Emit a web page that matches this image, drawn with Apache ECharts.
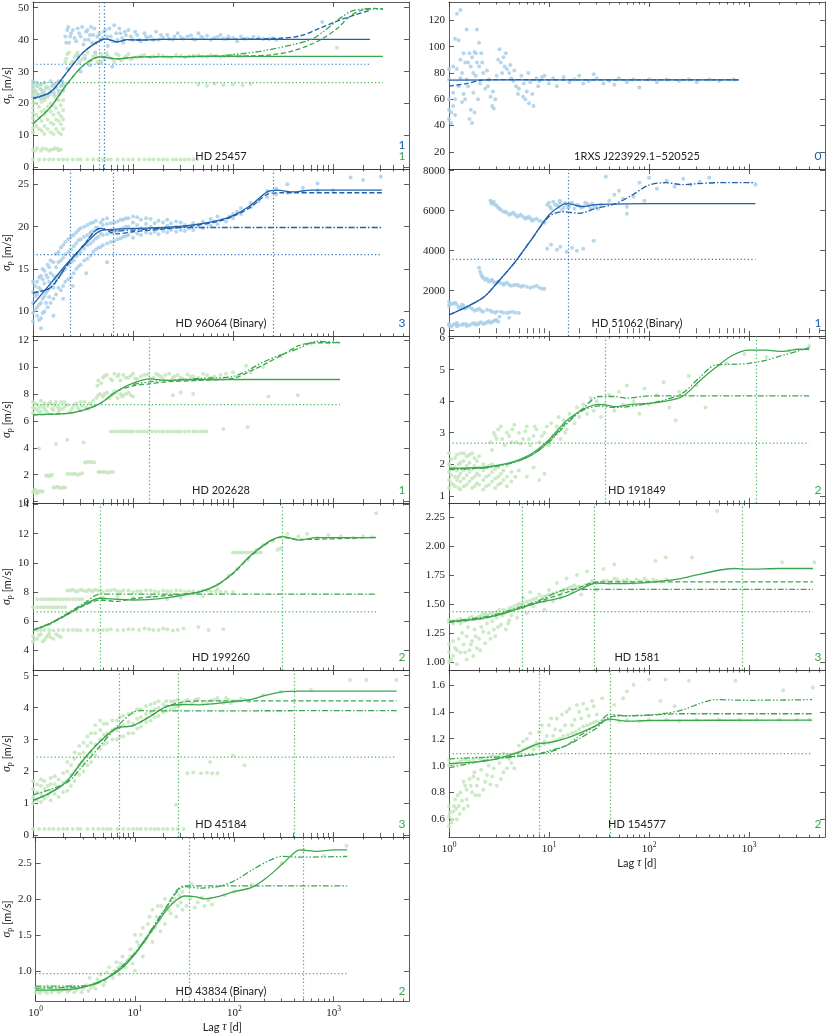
<!DOCTYPE html>
<html>
<head>
<meta charset="utf-8">
<script src="https://cdn.jsdelivr.net/npm/echarts@6/dist/echarts.min.js"></script>
<style>
  html, body { margin: 0; padding: 0; background: #fff; }
  #chart { width: 830px; height: 1034px; }
</style>
</head>
<body>
<div id="chart"></div>
<script>
// ---------- axis ticks ----------
const xMajorTicks = [1, 10, 100, 1000];
const xMinorTicks = [2, 3, 4, 5, 6, 7, 8, 9, 20, 30, 40, 50, 60, 70, 80, 90,
  200, 300, 400, 500, 600, 700, 800, 900, 2000, 3000, 4000, 5000];
const yTicks25457 = [0, 10, 20, 30, 40, 50];
const yTicksRxs = [20, 40, 60, 80, 100, 120];
const yTicks96064 = [10, 15, 20, 25];
const yTicks51062 = [0, 2000, 4000, 6000, 8000];
const yTicks202628 = [0, 2, 4, 6, 8, 10, 12];
const yTicks191849 = [1, 2, 3, 4, 5, 6];
const yTicks199260 = [4, 6, 8, 10, 12, 14];
const yTicks1581 = [1.0, 1.25, 1.5, 1.75, 2.0, 2.25];
const yTicks45184 = [0, 1, 2, 3, 4, 5];
const yTicks154577 = [0.6, 0.8, 1.0, 1.2, 1.4, 1.6];
const yTicks43834 = [1.0, 1.5, 2.0, 2.5];

// ---------- HD 25457 ----------
const hd25457BlueDots = [[1,22],[1,24],[1,26],[1.1,23],[1.1,25.5],[1.2,21.5],[1.2,24.5],[1.3,23],[1.3,26.5],[1.4,22.5],[1.4,25],[1.5,24],[1.5,27],[1.6,23.5],[1.6,26],[1.7,25],[1.8,24],[1.8,27],[1.9,25.5],[2,26],
  [1,23],[1,25],[1,27],[1.05,21.8],[1.05,24],[1.1,26.5],[1.15,22.5],[1.2,26],[1.25,23.5],[1.3,21.8],[1.35,25],[1.45,23],[1.55,25.5],[1.65,22.5],[1.75,26.5],[1.85,23],[1.95,27],[2,24],
  [2.1,41],[2.2,43],[2.3,39],[2.4,42],[2.6,40.5],[2.8,43.5],[3,41],[3.2,38.5],[3.4,42.5],[3.6,40],[3.8,44],[4,41.5],[4.3,39],[4.6,42],[5,40.5],[5.3,43],[5.6,38],[6,41],[6.5,44.5],[7,40],[7.5,42],[8,39],[8.5,41.5],[9,43],[10,40],[11,41.5],[12,39.5],[13,42],[14,40.5],[15,41],[17,42.5],[18,40],
  [2.15,39],[2.25,44],[2.35,41],[2.5,43],[2.7,39.5],[2.9,42],[3.1,44],[3.3,40],[3.5,43],[3.7,41.5],[3.9,39],[4.1,43.5],[4.4,41],[4.8,40],[5.1,42.5],[5.5,41],[5.8,43.5],[6.3,39.5],[6.8,42],[7.3,43.5],[7.8,40.5],[8.3,42.5],[9.5,41],[10.5,42.5],[11.5,40],[13.5,41],[16,40],[19,41.5],
  [2.2,31],[2.5,33],[2.8,35],[3,30],[3.3,34],[3.7,32],[4.2,36],[4.8,33],[5.5,35],[6.2,31.5],
  [20,40.5],[22,41.5],[23,40.2],[25,40],[26,41],[28,42],[30,40.8],[32,40.3],[35,41],[38,41.3],[40,40.2],[42,40],[45,42],[48,41],[50,40.5],[55,41.2],[60,40],[65,40.5],[70,40.8],[75,41.5],[80,40.3],[85,40.2],[90,41],[100,40.5],[110,39.5],[120,41],[130,40.3],[140,40.4],[160,40.8],[180,40.6],[200,40.2],[230,40.2],[250,40.5],[270,40],[780,45.5]];
const hd25457GreenDots = [[1,11],[1,14],[1,17],[1,20],[1,23],[1,26],[1.15,12],[1.15,15.5],[1.15,19],[1.15,22],[1.15,25],[1.3,10.5],[1.3,13],[1.3,16.5],[1.3,18],[1.3,21],[1.3,24],[1.5,11],[1.5,14],[1.5,17.5],[1.5,20],[1.5,23],[1.7,12],[1.7,15],[1.7,18.5],[1.7,22],[1.7,25.5],[1.9,10.5],[1.9,13.5],[1.9,16],[1.9,19.5],[1.9,24],
  [1,12.5],[1,15.5],[1,18.5],[1,21.5],[1,24.5],[1.08,13],[1.08,16.5],[1.08,20],[1.08,23.5],[1.08,26.5],[1.22,11.5],[1.22,14.5],[1.22,17.5],[1.22,20.5],[1.22,23],[1.4,12],[1.4,15],[1.4,19],[1.4,22],[1.4,25],[1.6,10.5],[1.6,13.5],[1.6,16.5],[1.6,19.5],[1.6,24],[1.8,11],[1.8,14.5],[1.8,17],[1.8,21],[1.8,23],[2,12],[2,15],[2,18],[2,21],
  [1,5.5],[1.05,5.3],[1.1,6],[1.2,5.2],[1.25,5.9],[1.35,5.8],[1.45,5.2],[1.5,5.5],[1.6,5.6],[1.65,6],[1.75,5.9],[1.8,5.4],[1.9,5.5],
  [1,2.5],[1.15,2.5],[1.3,2.5],[1.45,2.5],[1.6,2.5],[1.8,2.5],[2,2.5],[2.2,2.5],[2.5,2.5],[2.8,2.5],[3,2.5],[3.5,2.5],[4,2.5],[4.5,2.5],[5,2.5],[5.5,2.5],[6,2.5],[7,2.5],[8,2.5],[9,2.5],[10,2.5],[11.5,2.5],[13,2.5],[14.5,2.5],[16,2.5],[18,2.5],[20,2.5],[22,2.5],[25,2.5],[27,2.5],[30,2.5],[33,2.5],[36,2.5],[40,2.5],[44,2.5],
  [2.1,33],[2.15,34],[2.2,35.5],[2.3,36],[2.4,32.5],[2.5,33.2],[2.6,34.5],[2.7,35.2],[2.8,36],[2.9,32.8],[3,33.5],[3.2,34.2],[3.3,35],[3.5,36],[3.6,32.5],[3.8,33.5],[4,34.8],[4.2,35],[4.4,33],[4.6,32.8],[4.8,35.5],[5,34.5],[5.2,33.8],[5.5,35.8],[5.8,34.5],[6.2,34],[6.5,33],[6.8,35.5],[7.2,35.2],[7.6,33.5],[8,34],[8.5,34.8],[9,35.5],[9.5,33.8],[10,34.2],
  [11,34.5],[12,35],[13,35.2],[15,34.5],[16,34.8],[18,35.3],[20,35],[22,34.6],[24,34.5],[27,35.2],[30,35],[33,34.5],[36,34.8],[40,35],[45,35.1],[50,34.7],[55,34.6],[60,35.2],[68,35],[75,34.6],[82,34.8],[90,35],[100,35.1],[110,34.8],[120,34.7],[130,35],
  [45,26],[55,25.6],[65,26.2],[80,25.8],[100,26],[125,25.7],[150,26.1],[1090,37.5]];
const hd25457BlueSolid = [[1,21.6],[1.5,23.6],[2.2,29.9],[3.2,36.1],[4.7,39.8],[5.4,40.2],[6.9,39.3],[8.7,40],[12,39.9],[20,40.1],[50,40.1],[200,40.1],[2340,40.1]];
const hd25457BlueDashed = [[1,21.6],[1.5,23.6],[2.2,29.9],[3.2,36.1],[4.7,39.8],[5.4,40.2],[6.9,39.3],[8.7,40],[12,39.9],[20,40.1],[50,40.1],[150,40.2],[275,40.4],[470,41.2],[740,43.6],[1100,45.8],[1600,47.6],[2340,49.2]];
const hd25457GreenSolid = [[1,13.7],[1.5,18.9],[2.2,26.2],[3.2,32],[4.7,34.6],[6.9,34],[8.7,34.3],[12,34.6],[30,34.7],[100,34.8],[3160,34.8]];
const hd25457GreenDashed = [[1,13.7],[1.5,18.9],[2.2,26.2],[3.2,32],[4.7,34.6],[6.9,34],[8.7,34.3],[12,34.6],[30,34.7],[150,34.9],[250,35.3],[400,36.5],[600,38.5],[800,40.5],[1100,43.5],[1500,47.5],[2000,49.4],[2600,49.8],[3160,49.6]];
const hd25457GreenDashDotDot = [[30,34.7],[70,34.9],[100,35.3],[200,36.5],[400,38.5],[600,40],[800,42.5],[1100,46],[1500,48.8],[2000,49.6],[3160,49.6]];
const hd25457BlueLevel = [[1,32.3],[2340,32.3]];
const hd25457BlueLags = [5.13];
const hd25457GreenLevel = [[1,26.55],[3160,26.55]];
const hd25457GreenLags = [4.57];

// ---------- 1RXS J223929.1-520525 ----------
const rxsBlueDots = [[1,45],[1,52],[1,60],[1,75],[1,83],[1.05,42],[1.05,50],[1.1,55],[1.1,65],[1.1,85],[1.15,48],[1.15,60],[1.15,106],[1.2,125],[1.25,105],[1.25,70],[1.3,128],[1.3,90],[1.35,80],[1.35,58],[1.4,95],[1.45,88],[1.45,60],[1.5,113],[1.5,75],[1.55,70],[1.6,95],[1.6,45],[1.65,85],[1.7,92],[1.7,42],[1.75,65],[1.8,96],[1.8,50],[1.85,78],[1.9,113],[1.9,88],[1.95,60],[2,103],[2,85],[2.05,72],[2.1,95],[2.2,80],[2.3,68],[2.4,82],[2.5,75],[2.6,62],[2.7,55],[2.8,53],[2.9,60],[3,78],[3.2,98],[3.3,88],[3.5,92],[3.6,85],[3.8,83],[4,80],[4.2,76],[4.5,82],[4.7,70],[5,68],[5.3,78],[5.5,62],[5.8,60],[6,66],[6.3,57],[6.5,73],[7,55],[7.5,76],[8,74],[9,78],[10,72],[11,76],[12,70],[14,77],[16,73],[18,75],[20,78],[22,72],[25,74],[28,79],[30,76],[35,72],[40,74],[45,71],[50,76],[60,73],[70,75],[80,69],[100,75],[120,73],[150,75],[200,74],[250,75],[300,73],[400,75],[500,74],[700,75],
  [1.2,83],[1.3,76],[1.4,64],[1.55,88],[1.65,52],[1.75,80],[1.85,95],[2.15,88],[2.45,70],[2.75,66],[3.1,90],[3.4,80],[3.7,95],[4.1,86],[4.4,74],[4.9,64],[5.6,72],[6.2,80],[6.8,64],[7.8,70],[8.5,77]];
const rxsBlueSolid = [[1,74.6],[10,74.8],[790,74.8]];
const rxsBlueDashed = [[1,70],[1.5,72],[2.1,74.5],[3,75],[10,74.8],[790,74.8]];

// ---------- HD 96064 (Binary) ----------
const hd96064BlueDots = [[1,8.8],[1,9.8],[1,11],[1,12.3],[1,13.5],[1.1,9.5],[1.1,10.5],[1.1,12],[1.1,13.5],[1.2,9.2],[1.2,11],[1.2,12.5],[1.2,14.2],[1.3,10],[1.3,11.8],[1.3,13.3],[1.3,14.8],[1.4,10.5],[1.4,12.5],[1.4,14],[1.4,15.5],[1.5,11],[1.5,13],[1.5,14.5],[1.5,16],[1.7,12],[1.7,13.8],[1.7,15.2],[1.7,16.8],[1.9,12.5],[1.9,14.5],[1.9,16],[1.9,17.5],[2.1,13.5],[2.1,15],[2.1,16.7],[2.1,18.2],[2.4,14],[2.4,15.8],[2.4,17.3],[2.4,18.8],[2.7,15],[2.7,16.5],[2.7,18],[2.7,19.3],[3,15.5],[3,17],[3,18.5],[3,19.8],[3.5,16.2],[3.5,17.8],[3.5,19],[3.5,20.2],[4,17],[4,18.3],[4,19.5],[4,20.5],[4.5,17.5],[4.5,18.8],[4.5,19.8],[5,17.8],[5,19],[5,20.2],[5,20.8],[6,18.2],[6,19.3],[6,20.4],[7,18.5],[7,19.5],[7,20.6],[8,18.8],[8,19.8],[8,20.8],[9,19],[9,20],[9,21],[10,18.7],[10,19.6],[10,20.5],[10,21.2],[12,19],[12,19.8],[12,20.8],[15,19.2],[15,20],[15,20.9],[18,19.1],[18,19.8],[18,20.7],[22,19.3],[22,20.1],[22,20.8],[27,19.4],[27,20],[27,20.6],[33,19.5],[33,20.2],[40,19.6],[40,20.4],[50,19.8],[50,20.6],[60,20.1],[60,20.9],[70,20.3],[70,21.2],[85,20.6],[100,21],[100,21.5],[120,21.5],[120,22.2],[150,22.3],[150,22.8],[180,23],[220,23.5],[220,24.2],[270,24.5],[270,23.8],[350,24],[350,25],[500,24.2],[500,24.6],[700,24.3],[700,25.1],[1000,24.3],[1500,25.8],[2000,25.5],[3000,25.9],
  [1.2,8],[1.6,9.5],[2,11.5],[2.5,13],[3.4,14.5],[5.5,15.8],
  [1.05,10.2],[1.05,11.8],[1.05,13],[1.15,9],[1.15,10.8],[1.15,12.8],[1.15,14],[1.25,9.8],[1.25,11.5],[1.25,13.8],[1.25,15],[1.35,11],[1.35,12.2],[1.35,14.3],[1.45,11.7],[1.45,13.5],[1.45,15.2],[1.6,11.5],[1.6,12.8],[1.6,14.2],[1.6,15.8],[1.8,12.8],[1.8,14.2],[1.8,15.8],[1.8,17],[2,13],[2,14.8],[2,16.3],[2,17.8],[2.25,13.8],[2.25,15.5],[2.25,17],[2.25,18.5],[2.55,14.5],[2.55,16],[2.55,17.7],[2.55,19],[2.85,15.3],[2.85,16.8],[2.85,18.4],[2.85,19.6],[3.25,16],[3.25,17.4],[3.25,18.8],[3.25,20],[3.75,16.6],[3.75,18],[3.75,19.3],[3.75,20.4],[4.25,17.3],[4.25,18.6],[4.25,19.9],[4.25,20.7],[4.75,17.6],[4.75,19.2],[4.75,20.5],[5.5,18],[5.5,19.1],[5.5,20.3],[5.5,21],[6.5,18.3],[6.5,19.4],[6.5,20.5],[7.5,18.6],[7.5,19.7],[7.5,20.8],[8.5,18.9],[8.5,20],[8.5,21],[11,19.2],[11,20.2],[11,21.1],[13.5,19.3],[13.5,20.3],[13.5,21],[16.5,19.4],[16.5,20.4],[20,19.5],[20,20.5],[24,19.6],[24,20.4],[30,19.6],[30,20.5],[36,19.8],[45,20.1],[55,20.3],[65,20.6],[78,20.8],[92,21.2],[110,21.8]];
const hd96064BlueSolid = [[1,10.8],[1.5,13.3],[2.2,15.7],[3.2,17.7],[4.7,19.5],[6.9,19.7],[10,19.8],[20,19.9],[40,20.2],[70,20.7],[100,21.3],[150,22.5],[220,24.1],[275,24.3],[400,24.1],[600,24.3],[3080,24.3]];
const hd96064BlueDashed = [[1,12.2],[1.5,12.8],[2.2,15.5],[3.2,17.8],[4.7,19.8],[6.9,19.15],[10,19.4],[20,19.7],[40,20.1],[70,20.6],[100,21.2],[150,22.3],[220,23.8],[300,24.0],[3080,24.0]];
const hd96064BlueDashDot = [[1,12.2],[1.5,12.8],[2.2,15.5],[3.2,17.8],[4.7,19.8],[6.9,19.5],[10,19.6],[20,19.8],[30,19.9],[3080,19.9]];
const hd96064BlueLevel = [[1,16.7],[3080,16.7]];
const hd96064BlueLags = [2.34, 6.35, 250];

// ---------- HD 51062 (Binary) ----------
const hd51062BlueDots = [[1,250],[1,350],[1.05,200],[1.1,300],[1.15,330],[1.2,220],[1.2,380],[1.25,270],[1.35,280],[1.4,350],[1.5,320],[1.5,230],[1.6,270],[1.7,350],[1.8,380],[1.85,300],[1.95,320],[2,380],[2.1,420],[2.2,330],[2.3,370],[2.4,420],[2.5,470],[2.6,400],[2.7,430],[2.8,480],[2.9,520],[3,520],[3.1,450],
  [1,1450],[1,1250],[1.05,1350],[1.1,1350],[1.15,1400],[1.2,1300],[1.25,1150],[1.3,1200],[1.35,1300],[1.4,1250],[1.45,1100],[1.5,1150],[1.6,1200],[1.7,1100],[1.8,1000],[1.9,1050],[2,1100],[2.1,1000],[2.2,950],[2.4,1050],[2.6,1000],[2.7,950],[2.9,900],[3,950],[3.3,950],[3.5,900],[3.8,880],[4,920],[4.3,950],[4.6,900],[5,880],[3.2,700],[4,650],
  [2,3150],[2.05,2950],[2.1,2800],[2.15,2700],[2.2,2650],[2.3,2550],[2.4,2600],[2.5,2450],[2.6,2500],[2.7,2550],[2.8,2450],[2.9,2350],[3,2400],[3.1,2450],[3.3,2380],[3.5,2300],[3.6,2350],[3.8,2400],[4,2300],[4.2,2250],[4.5,2280],[4.8,2300],[5,2250],[5.3,2200],[5.5,2250],[6,2200],[6.5,2150],[7,2200],[7.5,2250],[8,2150],[8.5,2100],[9,2100],
  [2.6,6500],[2.65,6400],[2.7,6350],[2.8,6450],[2.9,6300],[3,6250],[3.1,6150],[3.2,6100],[3.3,6050],[3.5,5950],[3.65,5950],[3.8,5900],[4,5800],[4.2,5850],[4.4,5900],[4.6,5800],[4.8,5700],[5,5750],[5.2,5800],[5.5,5700],[5.8,5600],[6,5650],[6.3,5700],[6.5,5600],[6.8,5500],[7,5550],[7.5,5600],[8,5500],[8.5,5450],[9,5400],
  [9.6,6300],[10,6400],[10.2,6200],[10.5,6100],[11,6450],[11.5,6300],[12,6300],[12.5,6200],[12.8,6500],[13,6400],[13.5,6050],[14,6150],[14.5,6400],[15,6300],[15.5,6150],[16,6200],[16.5,6350],[17,6400],[18,6100],[19,6300],[20,6250],[21,6150],[22,6200],[23,6400],[24,6350],[25,6250],[26,6100],[27,6350],[28,6250],[29,6200],[30,6150],[31,6100],[33,6300],
  [9.6,4100],[10.5,4300],[12,4050],[13,4200],[15,3950],[17,4150],[19,4000],[22,4100],[28,4500],
  [37,7700],[40,6500],[45,6800],[50,7000],[55,6600],[60,6200],[70,6700],[80,7400],[90,6500],[100,7650],[120,7100],[150,7500],[180,7200],[220,7600],[260,7300],[320,7450],[400,7650],[60,5850],[1160,7300]];
const hd51062BlueSolid = [[1,785],[2.15,1620],[3.1,2450],[4.6,3450],[6.8,4620],[10,5785],[13.5,6285],[15.5,6350],[21.5,6200],[29,6300],[46,6330],[100,6350],[1160,6350]];
const hd51062BlueDashed = [[1,785],[2.15,1620],[3.1,2450],[4.6,3450],[6.8,4620],[10,5700],[13.5,5950],[20,5870],[29,6100],[46,6350],[68,6785],[100,7285],[147,7400],[216,7300],[300,7350],[500,7400],[1160,7400]];
const hd51062BlueLevel = [[1,3565],[1160,3565]];
const hd51062BlueLags = [15.4];

// ---------- HD 202628 ----------
const hd202628GreenDots = [[1,6.6],[1,7],[1,7.4],[1.05,6.9],[1.05,7.3],[1.1,6.8],[1.1,7.2],[1.15,6.6],[1.15,7.0],[1.2,6.7],[1.2,7.5],[1.25,7.1],[1.3,6.9],[1.3,7.3],[1.35,6.75],[1.4,6.6],[1.4,7.1],[1.45,7.3],[1.5,7.4],[1.55,6.9],[1.6,6.8],[1.6,7.2],[1.7,7.1],[1.7,7.4],[1.8,6.7],[1.8,7.0],[1.85,6.85],[1.9,7.4],[2,6.9],[2.05,7.4],[2.1,7.1],[2.2,7.2],[2.3,6.6],[2.4,6.8],[2.5,7.0],[2.6,7.2],[2.7,7.3],[2.8,7.0],[2.9,6.8],[3.0,7.4],[3.1,7.1],[3.3,7.4],[3.4,7.0],[3.6,6.9],[3.7,7.3],[3.8,7.2],[4,7.5],
  [4.3,7.7],[4.5,7.9],[4.7,8.0],[5,7.8],[5.2,8.0],[5.5,8.1],[5.8,7.7],[6,7.9],[6.3,7.95],[6.5,8.2],[6.8,8.1],[7,7.7],[7.5,8.0],[7.8,7.8],[8,7.9],[8.5,8.0],[9,8.1],[9.5,7.9],[10,7.8],[4.4,8.6],[4.8,8.8],[4.5,9.0],
  [5,9.2],[5.2,9.35],[5.5,9.4],[6,9.1],[6.2,9.0],[6.5,9.5],[7,9.3],[7.2,9.45],[7.5,9.0],[8,9.4],[8.5,9.2],[9,9.2],[9.5,9.35],[10,9.5],[10.5,9.15],[11,9.1],[12,9.3],[13,9.4],[14,9.45],[15,9.1],[16,9.2],[17,9.5],[18,9.4],[19,9.3],[20,9.1],[21,9.4],[23,9.5],[25,9.2],[26,9.3],[28,9.4],[30,9.2],[32,9.1],[35,9.45],[38,9.3],[40,9.3],[45,9.2],[50,9.5],[55,9.4],[60,9.2],[65,9.3],[75,9.4],[85,9.5],[100,9.6],
  [6,5.2],[6.5,5.2],[7,5.2],[7.5,5.2],[8,5.2],[8.5,5.2],[9,5.2],[9.5,5.2],[10,5.2],[11,5.2],[12,5.2],[13,5.2],[14,5.2],[15.5,5.2],[17,5.2],[18.5,5.2],[20,5.2],[22,5.2],[24,5.2],[26,5.2],[28,5.2],[30,5.2],[33,5.2],[36,5.2],[40,5.2],[43,5.2],[47,5.2],[50,5.2],[54,5.2],[80,5.4],[140,5.55],
  [1,0.7],[1.05,0.9],[1.08,0.7],[1.1,0.6],[1.15,0.8],[1.2,0.75],[1.25,0.75],[1.35,1.95],[1.4,1.95],[1.45,1.9],[1.5,1.95],[1.55,2.0],[1.6,1.05],[1.65,1.05],[1.75,1.1],[1.8,1.05],[1.9,1.0],[2.0,1.05],[2.1,1.05],[2.2,2.05],[2.35,2.05],[2.5,2.05],[2.65,2.05],[2.8,2.0],[2.95,2.05],[3.1,2.1],[3.3,2.9],[3.5,2.95],[3.7,2.95],[3.9,2.95],[4.1,2.9],[4.5,2.2],[4.7,2.2],[5,2.2],[5.3,2.2],[5.6,2.15],[5.9,2.2],[6.3,2.2],[1.15,3.95],[1.7,4.3],[2.2,4.6],[3.2,4.4],
  [226,7.8],[445,7.9],[135,10.1],[30,8.1],[40,8.0],[25,7.9],[150,9.6],[200,10],[300,10.8],[400,11.3],[600,11.7],[900,11.8]];
const hd202628GreenSolid = [[1,6.45],[2.2,6.55],[3.2,6.8],[4.7,7.3],[6.9,8.2],[10,8.8],[14.7,9.12],[21.5,9.0],[46,9.07],[1175,9.07]];
const hd202628GreenDashed = [[1,6.45],[2.2,6.55],[3.2,6.8],[4.7,7.3],[6.9,8.2],[10,8.6],[14.7,8.75],[21.5,8.9],[46,9.0],[100,9.15],[150,9.7],[220,10.3],[320,10.95],[460,11.6],[680,11.8],[1000,11.8],[1175,11.85]];
const hd202628GreenDashDotDot = [[10,8.7],[14.7,8.9],[21.5,9.0],[46,9.15],[100,9.3],[220,10.5],[460,11.4],[680,11.9],[1175,11.8]];
const hd202628GreenLevel = [[1,7.2],[1175,7.2]];
const hd202628GreenLags = [14.5];

// ---------- HD 191849 ----------
const hd191849GreenDots = [[1,1.25],[1,1.5],[1,1.75],[1,2.0],[1,2.35],[1.05,1.4],[1.05,1.65],[1.05,1.9],[1.05,2.15],[1.1,1.35],[1.1,1.85],[1.15,1.3],[1.15,1.6],[1.15,1.9],[1.15,2.2],[1.2,1.5],[1.2,1.8],[1.2,2.3],[1.25,1.25],[1.25,1.6],[1.25,2.0],[1.3,1.2],[1.3,1.45],[1.3,1.7],[1.3,2.05],[1.3,2.35],[1.4,1.3],[1.4,1.55],[1.4,1.8],[1.4,2.1],[1.4,2.35],[1.5,1.35],[1.5,1.65],[1.5,1.95],[1.5,2.25],[1.6,1.45],[1.6,1.75],[1.6,2.05],[1.6,2.3],[1.7,1.25],[1.7,1.55],[1.7,1.85],[1.7,2.35],[1.8,1.3],[1.8,1.6],[1.8,1.95],[1.8,2.2],[1.9,1.4],[1.9,1.7],[1.9,2.1],[2,1.35],[2,1.65],[2,1.9],[2,2.25],[2.2,1.2],[2.2,1.5],[2.2,1.8],[2.2,2.0],[2.35,1.3],[2.35,1.6],[2.35,1.9],[2.5,1.35],[2.5,1.65],[2.5,1.95],[2.7,1.45],[2.7,1.75],[2.7,2.0],[2.9,1.25],[2.9,1.55],[2.9,1.85],[3.1,1.35],[3.1,1.6],[3.1,1.9],[3.3,1.4],[3.3,1.7],[3.5,1.5],[3.5,1.8],[3.8,1.3],[3.8,1.6],[3.8,1.95],[4.2,1.45],[4.2,1.75],[4.6,1.6],
  [2.6,2.7],[2.7,2.45],[2.8,3.0],[2.9,2.9],[3,2.8],[3.1,3.1],[3.3,3.2],[3.4,2.8],[3.6,2.6],[3.8,3.0],[4,2.9],[4.2,2.7],[4.3,3.1],[4.5,3.25],[4.7,2.7],[5,3.0],[5.2,2.65],[5.5,2.8],[5.8,3.05],[6,3.2],[6.3,2.8],[6.5,2.6],[7,2.9],[7.2,3.2],[7.5,3.1],[8,2.7],[8.5,2.9],[9,3.0],[9.5,3.2],[5,1.8],[6,1.6],[7,1.9],[8,1.5],[9,1.7],
  [10,2.6],[10.5,3.3],[11,2.9],[12,3.2],[12.5,3.5],[13,2.8],[14,3.4],[14.5,3.0],[15,3.1],[16,3.6],[18,3.3],[19,3.8],[20,3.5],[22,3.9],[24,3.6],[26,4.1],[28,3.7],[30,4.0],[33,3.5],[36,3.9],[40,4.2],
  [45,3.7],[50,4.3],[55,3.9],[60,4.5],[70,4.0],[80,3.6],[90,4.4],[100,3.9],[120,4.2],[140,4.6],[160,3.8],[185,3.4],[200,4.3],[250,4.8],[300,4.5],[367,3.8],[600,5.2],[900,5.5],[1500,5.4],[2500,5.6],[4000,5.75]];
const hd191849GreenSolid = [[1,1.87],[2.15,1.9],[3.1,1.97],[4.6,2.1],[6.8,2.35],[10,2.78],[14.7,3.36],[21.5,3.73],[28,3.88],[31.6,3.9],[40,3.86],[46,3.83],[68,3.9],[100,3.93],[147,4.0],[216,4.15],[320,4.64],[460,5.06],[680,5.45],[1000,5.62],[1470,5.62],[2150,5.58],[3160,5.65],[4000,5.65]];
const hd191849GreenDashDot = [[1,1.85],[2.15,1.88],[3.1,1.95],[4.6,2.07],[6.8,2.3],[10,2.72],[14.7,3.3],[21.5,3.75],[31.6,4.15],[45,4.15],[60,4.1],[100,4.17],[4000,4.17]];
const hd191849GreenDashDotDot = [[1,1.83],[2.15,1.88],[3.1,1.95],[4.6,2.08],[6.8,2.3],[10,2.7],[14.7,3.25],[21.5,3.7],[31.6,3.85],[46,3.8],[100,3.93],[147,4.05],[216,4.25],[320,4.75],[460,5.15],[680,5.17],[1000,5.2],[1470,5.3],[2150,5.45],[3160,5.6],[4000,5.7]];
const hd191849GreenLevel = [[1,2.67],[4000,2.67]];
const hd191849GreenLags = [36.7, 1176];

// ---------- HD 199260 ----------
const hd199260GreenDots = [[1.1,7.5],[1.2,7.5],[1.3,7.5],[1.4,7.5],[1.5,7.5],[1.6,7.5],[1.7,7.5],[1.85,7.5],[2,7.5],[2.15,7.5],[2.3,7.5],[2.5,7.5],[2.7,7.5],[2.9,7.5],[3.1,7.5],
  [2.2,8.1],[2.35,8.1],[2.5,8.15],[2.65,8.05],[2.8,8.05],[3.0,8.15],[3.2,8.1],[3.4,8.05],[3.6,8.15],[3.8,8.1],[4,8.05],[4.2,8.15],[4.5,8.1],[4.8,8.05],[5,8.0],[5.5,8.1],[6,8.1],[6.5,8.15],[7,8.05],[7.5,8.0],[8,8.1],[9,8.1],[10,8.0],[11,8.05],[12,8.05],[13.5,8.1],[15,8.1],[16.5,8.05],[18,8.0],[20,8.1],[22,8.05],[24,8.05],[27,8.1],[30,8.1],[33,8.0],[36,8.05],[40,8.05],[45,8.0],[50,8.1],[55,8.1],[60,8.05],[67,8.05],[75,8.0],[85,8.0],[100,8.0],
  [1,6.95],[1.1,6.95],[1.2,6.95],[1.3,6.95],[1.4,6.95],[1.5,6.95],[1.6,6.95],[1.7,6.95],[1.8,6.95],[1.95,6.95],[2.1,6.95],
  [1.1,5.4],[1.2,5.4],[1.3,5.4],[1.45,5.4],[1.6,5.35],[1.8,5.4],[2,5.4],[2.25,5.4],[2.5,5.4],[2.75,5.4],[3,5.35],[3.5,5.4],[4,5.4],[4.5,5.4],[5,5.4],[5.5,5.4],[6,5.45],[7,5.4],[8,5.4],[9,5.45],[10,5.45],[11.5,5.4],[13,5.5],[14.5,5.45],[16,5.4],[18,5.4],[20,5.5],[22,5.45],[25,5.35],[28,5.4],[32,5.5],[45,5.6],[57,5.4],[80,5.45],
  [1,4.6],[1,5.0],[1.05,4.75],[1.1,4.8],[1.15,5.05],[1.2,5.1],[1.25,4.6],[1.3,4.7],[1.35,4.9],[1.4,5.0],[1.45,5.15],[1.5,4.9],[1.6,4.8],[1.7,5.1],[1.8,5.0],[1.9,4.9],
  [3.5,7.3],[5,7.6],[7,7.7],[10,7.6],[15,7.7],[22,7.5],[30,7.6],[50,7.7],[70,8.2],
  [100,10.7],[108,10.7],[115,10.7],[122,10.7],[130,10.7],[140,10.7],[150,10.7],[160,10.7],[170,10.7],[180,10.7],[190,10.7],
  [70,8.5],[90,9.1],[110,9.6],[140,10.2],[170,10.9],[200,11.2],[250,11.5],[280,10.9],[300,11.0],
  [350,12.0],[450,11.8],[550,12.0],[700,11.7],[900,11.9],[1200,11.8],[1600,11.7],[2000,11.8],[2500,11.75],[2700,13.4]];
const hd199260GreenSolid = [[1,5.38],[1.48,5.83],[2.17,6.45],[3.19,7.1],[4.68,7.57],[6.87,7.5],[10,7.45],[21.5,7.6],[46,8.0],[68,8.45],[100,9.3],[147,10.45],[216,11.35],[275,11.72],[320,11.8],[460,11.55],[680,11.72],[2690,11.72]];
const hd199260GreenDashed = [[1,5.35],[1.48,5.8],[2.17,6.42],[3.19,7.05],[4.68,7.45],[6.87,7.35],[10,7.55],[21.5,7.75],[46,8.0],[68,8.45],[100,9.25],[147,10.4],[216,11.3],[300,11.75],[460,11.6],[2690,11.75]];
const hd199260GreenDashDot = [[1,5.4],[1.48,5.85],[2.17,6.5],[3.19,7.2],[4.68,7.85],[10,7.85],[2690,7.85]];
const hd199260GreenLevel = [[1,6.64],[2690,6.64]];
const hd199260GreenLags = [4.75, 314];

// ---------- HD 1581 ----------
const hd1581GreenDots = [[1,1.34],[1.1,1.35],[1.1,1.33],[1.2,1.36],[1.3,1.37],[1.4,1.35],[1.5,1.36],[1.6,1.38],[1.7,1.39],[1.8,1.37],[1.9,1.38],[2,1.39],[2.1,1.4],[2.3,1.4],[2.4,1.41],[2.6,1.42],[2.8,1.42],[3,1.43],[3.2,1.45],[3.5,1.45],[3.7,1.44],[4,1.46],[4.2,1.47],[4.5,1.48],[4.8,1.49],[5,1.5],[5.5,1.51],[6,1.52],[6.5,1.53],[7,1.54],[7.5,1.55],[8,1.53],[8.5,1.56],[9,1.56],[9.5,1.57],[10,1.58],[11,1.59],[12,1.6],[13.5,1.61],[14,1.62],[15,1.63],[16,1.64],[17,1.65],[18,1.66],[19,1.64],[20,1.65],[23,1.66],[25,1.67],[27,1.68],[30,1.68],[1,1.36],[1.3,1.33],[2.2,1.42],[3.3,1.41],[5.5,1.47],[9,1.52],[13,1.57],[22,1.63],
  [1,1.0],[1,1.08],[1,1.15],[1.05,1.02],[1.1,1.05],[1.1,1.18],[1.15,1.12],[1.2,0.98],[1.2,1.1],[1.25,1.2],[1.3,1.08],[1.35,1.25],[1.4,1.15],[1.45,1.08],[1.5,1.02],[1.5,1.22],[1.55,1.3],[1.6,1.1],[1.65,1.15],[1.7,1.18],[1.75,1.05],[1.8,1.28],[1.85,1.22],[1.9,1.12],[2,1.2],[2.05,1.1],[2.1,1.3],[2.2,1.26],[2.3,1.16],[2.4,1.33],[2.5,1.25],[2.6,1.2],[2.7,1.35],[2.8,1.28],[2.9,1.22],[3.0,1.38],[3.1,1.3],[3.3,1.32],[3.4,1.4],[3.6,1.42],[3.7,1.28],[3.9,1.33],[4,1.36],[4.2,1.4],[4.4,1.45],[4.8,1.38],[5.2,1.5],
  [5.5,1.55],[6,1.42],[6.5,1.6],[7,1.48],[8,1.58],[9,1.45],[10,1.62],[11,1.52],[12,1.68],[13,1.55],[15,1.72],[17,1.6],[19,1.75],[21,1.58],[24,1.78],[27,1.7],[30,1.62],
  [35,1.7],[38,1.7],[40,1.68],[42,1.69],[45,1.72],[48,1.71],[50,1.69],[55,1.7],[60,1.71],[65,1.69],[70,1.68],[75,1.71],[80,1.7],[85,1.69],[90,1.72],[95,1.7],[100,1.69],[110,1.71],[120,1.7],[130,1.69],[150,1.71],
  [116,1.87],[147,1.9],[270,1.9],[480,2.3],[2140,1.86],[4500,1.86],[45,1.84],[35,1.8]];
const hd1581GreenSolid = [[1,1.345],[2,1.37],[3,1.4],[5,1.46],[7,1.5],[10,1.53],[15,1.57],[20,1.62],[30,1.68],[40,1.675],[60,1.675],[100,1.685],[200,1.715],[300,1.75],[500,1.79],[700,1.805],[1000,1.8],[2000,1.805],[4360,1.805]];
const hd1581GreenDashed = [[1,1.34],[2,1.37],[3,1.4],[5,1.46],[7,1.5],[10,1.55],[15,1.6],[20,1.64],[30,1.69],[4360,1.69]];
const hd1581GreenDashDot = [[1,1.35],[2,1.38],[3,1.41],[5,1.47],[8,1.53],[12,1.6],[15,1.625],[4360,1.625]];
const hd1581GreenLevel = [[1,1.433],[4360,1.433]];
const hd1581GreenLags = [5.4, 28.5, 855];

// ---------- HD 45184 ----------
const hd45184GreenDots = [[1,0.2],[1.15,0.2],[1.3,0.2],[1.45,0.2],[1.6,0.2],[1.8,0.2],[2,0.2],[2.2,0.2],[2.5,0.2],[2.8,0.2],[3,0.2],[3.5,0.2],[4,0.2],[4.5,0.2],[5,0.2],[5.5,0.2],[6,0.2],[7,0.2],[8,0.2],[9,0.2],[10,0.2],[11,0.2],[12,0.2],[13.5,0.2],[15,0.2],[16.5,0.2],[18,0.2],[20,0.2],[22,0.2],[25,0.2],[28,0.2],[32,0.2],
  [1,1.0],[1,1.2],[1,1.45],[1,1.7],[1.1,1.1],[1.1,1.35],[1.1,1.6],[1.2,1.05],[1.2,1.3],[1.2,1.55],[1.2,1.75],[1.3,1.15],[1.3,1.45],[1.3,1.7],[1.4,1.25],[1.4,1.55],[1.5,1.1],[1.5,1.4],[1.5,1.6],[1.5,1.8],[1.65,1.3],[1.65,1.6],[1.65,1.85],[1.8,1.2],[1.8,1.5],[1.8,1.75],[2,1.35],[2,1.65],[2,1.95],[2.2,1.4],[2.2,1.7],[2.2,2.0],[2.2,2.3],[2.4,1.55],[2.4,1.9],[2.4,2.2],[2.6,1.7],[2.6,2.0],[2.6,2.4],[2.6,2.6],[2.9,1.9],[2.9,2.2],[2.9,2.55],[2.9,2.8],[3.2,2.0],[3.2,2.3],[3.2,2.6],[3.2,2.9],[3.5,2.2],[3.5,2.5],[3.5,2.8],[3.5,3.1],[3.8,2.3],[3.8,2.6],[3.8,2.9],[3.8,3.2],[4.2,2.5],[4.2,2.85],[4.2,3.2],[4.2,3.45],[4.7,2.7],[4.7,3.0],[4.7,3.3],[4.7,3.6],[5.1,2.85],[5.1,3.15],[5.1,3.5],[5.5,2.9],[5.5,3.2],[5.5,3.5],[6.2,3.0],[6.2,3.3],[6.2,3.6],[6.9,3.0],[6.9,3.3],[6.9,3.6],[7.4,3.1],[7.4,3.4],[7.4,3.7],[8,3.1],[8,3.45],[8,3.75],[9,3.2],[9,3.55],[9,3.8],[10,3.2],[10,3.5],[10,3.85],[11,3.35],[11,3.65],[11,3.95],[12,3.4],[12,3.7],[12,3.95],[13.5,3.55],[13.5,3.8],[13.5,4.05],[15,3.6],[15,3.85],[15,4.1],[16.5,3.7],[16.5,3.95],[16.5,4.15],[18,3.75],[18,4.0],[18,4.2],[20,3.85],[20,4.1],[21.5,3.9],[21.5,4.05],[21.5,4.2],[24,3.95],[24,4.2],[26,4.0],[26,4.2],[28,4.05],[28,4.25],
  [30,4.1],[33,4.2],[35,4.25],[38,4.12],[40,4.15],[42,4.25],[45,4.28],[50,4.12],[55,4.18],[60,4.22],[65,4.25],[70,4.3],[75,4.2],[80,4.15],[85,4.3],[90,4.25],[95,4.15],[100,4.2],[110,4.22],[120,4.28],[130,4.25],[145,4.2],
  [35,1.95],[40,1.97],[48,1.95],[55,1.96],[62,1.95],[70,1.95],[27,0.96],[59,2.3],[100,2.5],[130,2.2],[200,4.4],[300,4.5],[600,4.55],[1480,4.87],[2150,4.87],[4300,4.87]];
const hd45184GreenSolid = [[1,1.1],[1.48,1.33],[2.17,1.69],[3.19,2.37],[4.68,2.94],[6.87,3.36],[10,3.44],[14.7,3.72],[21.5,4.03],[31.6,4.1],[46,4.09],[100,4.19],[147,4.25],[215,4.39],[320,4.5],[460,4.52],[4330,4.52]];
const hd45184GreenDashed = [[1,1.1],[1.48,1.33],[2.17,1.69],[3.19,2.37],[4.68,2.94],[6.87,3.36],[10,3.44],[14.7,3.72],[21.5,4.03],[31.6,4.18],[50,4.21],[4330,4.21]];
const hd45184GreenDashDot = [[1,1.27],[2.17,1.65],[3.19,2.2],[4.68,2.8],[6.87,3.4],[10,3.85],[12,3.91],[15,3.9],[4330,3.91]];
const hd45184GreenLevel = [[1,2.45],[4330,2.45]];
const hd45184GreenLags = [7.3, 28.4, 414];

// ---------- HD 154577 ----------
const hd154577GreenDots = [[1,0.55],[1,0.62],[1,0.7],[1.02,0.65],[1.05,0.58],[1.08,0.6],[1.1,0.66],[1.12,0.7],[1.15,0.75],[1.18,0.68],[1.2,0.6],[1.22,0.78],[1.25,0.7],[1.28,0.64],[1.3,0.8],[1.35,0.74],[1.4,0.68],[1.4,0.88],[1.45,0.85],[1.5,0.75],[1.5,0.82],[1.55,0.7],[1.6,0.9],[1.65,0.85],[1.7,0.8],[1.75,0.92],[1.8,0.95],[1.85,0.78],[1.9,0.85],[1.95,0.9],[2,0.78],[2.1,0.97],[2.2,0.82],[2.3,0.88],[2.4,0.93],[2.5,1.0],[2.6,0.86],[2.7,0.92],[2.8,0.98],[3,0.85],[3.2,1.02],[3.3,0.9],[3.5,0.95],[3.8,0.98],[4,1.05],[4.2,1.02],[4.5,0.98],[5,1.08],
  [1,1.0],[1,1.04],[1.1,1.01],[1.2,1.02],[1.3,1.03],[1.4,1.05],[1.5,1.04],[1.6,1.03],[1.75,1.05],[1.9,1.06],[2.05,1.05],[2.2,1.04],[2.4,1.06],[2.6,1.07],[2.8,1.07],[3,1.06],[3.2,1.08],[3.5,1.09],[3.8,1.08],[4,1.08],[4.5,1.09],[5,1.1],[5.5,1.12],[6,1.13],[6.5,1.14],[7,1.15],[7.5,1.15],[8,1.14],[9,1.16],[10,1.17],[11,1.18],[12,1.19],[13,1.2],[14,1.22],[15.5,1.23],[17,1.24],[18.5,1.25],[20,1.27],[22,1.29],[24,1.3],[26,1.31],[28,1.32],[30,1.33],[35,1.34],
  [5,1.15],[5.5,1.18],[6,1.2],[6.5,1.24],[7,1.12],[7.5,1.17],[8,1.25],[8.5,1.3],[9,1.18],[9.5,1.22],[10,1.3],[10.5,1.35],[11,1.22],[11.5,1.27],[12,1.35],[13,1.26],[13.5,1.38],[14.5,1.3],[15,1.4],[16,1.42],[17,1.3],[18,1.34],[19,1.45],[20,1.4],[21,1.35],[22,1.46],[24,1.42],[25,1.37],[27,1.48],[28,1.44],[30,1.38],[34,1.5],
  [40,1.34],[50,1.33],[60,1.34],[80,1.33],[100,1.34],[150,1.34],[200,1.33],[300,1.34],[500,1.34],[800,1.34],[1200,1.34],[2000,1.34],[3000,1.34],[4000,1.34],
  [100,1.64],[146,1.64],[250,1.63],[730,1.63],[2200,1.56],[4350,1.58],[60,1.55],[70,1.6],[45,1.45],[55,1.5],[130,1.48],[180,1.44]];
const hd154577GreenSolid = [[1,1.015],[2,1.03],[3,1.05],[5,1.1],[7.6,1.16],[10,1.17],[15,1.205],[20,1.24],[30,1.3],[40,1.345],[60,1.33],[100,1.335],[4270,1.338]];
const hd154577GreenDashDot = [[1,0.983],[2,1.03],[3,1.05],[5,1.07],[7.6,1.085],[10,1.1],[15,1.15],[20,1.2],[30,1.28],[40,1.36],[60,1.37],[100,1.375],[200,1.385],[4270,1.385]];
const hd154577GreenDashDotDot = [[1,1.05],[2,1.06],[5,1.07],[7.6,1.085],[10,1.11],[15,1.15],[20,1.22],[30,1.3],[40,1.38],[60,1.37],[100,1.375],[150,1.39],[220,1.415],[320,1.46],[460,1.49],[1000,1.485],[4270,1.49]];
const hd154577GreenLevel = [[1,1.089],[4270,1.089]];
const hd154577GreenLags = [7.9, 40.6];

// ---------- HD 43834 (Binary) ----------
const hd43834GreenDots = [[1,0.7],[1,0.76],[1.05,0.73],[1.1,0.69],[1.15,0.72],[1.2,0.75],[1.25,0.71],[1.3,0.69],[1.3,0.78],[1.4,0.76],[1.45,0.7],[1.5,0.73],[1.6,0.74],[1.7,0.7],[1.7,0.77],[1.8,0.72],[1.9,0.74],[2,0.77],[2.1,0.71],[2.2,0.73],[2.3,0.78],[2.45,0.7],[2.6,0.74],[2.7,0.77],[2.9,0.7],[3.0,0.75],[3.2,0.8],[3.4,0.72],[3.6,0.76],[3.8,0.79],[4,0.82],
  [3.5,0.9],[4,0.75],[4.2,0.88],[4.5,0.95],[4.8,0.8],[5,0.85],[5.2,0.98],[5.5,1.05],[5.8,0.95],[6,0.9],[6.2,1.0],[6.5,1.12],[6.8,1.05],[7,0.95],[7.2,1.1],[7.5,1.2],[8,1.05],[8.5,1.15],[9,1.3],[9,1.2],[9.5,1.1],
  [10,1.0],[10,1.25],[10,1.5],[10.5,1.4],[11,1.35],[11.5,1.5],[12,1.2],[12,1.6],[12.5,1.4],[13,1.45],[13.5,1.65],[14,1.75],[14.5,1.55],[15,1.4],[15,1.85],[16,1.6],[16.5,1.75],[17,1.9],[17.5,1.7],[18,1.55],[18.5,1.9],[19,1.8],[20,1.65],[20,2.0],[21,1.9],[22,1.85],[23,1.8],[24,1.95],[25,2.0],[26,1.75],[27,1.9],[28,2.05],[29,1.95],[30,1.85],[30,2.1],
  [33,1.9],[36,2.0],[40,1.88],[43,1.95],[47,2.02],[50,1.9],[55,1.98],[60,1.92],
  [37,2.21],[80,2.05],[100,2.1],[150,2.2],[300,2.5],[500,2.68],[800,2.6],[1350,2.74]];
const hd43834GreenSolid = [[1,0.73],[2.17,0.74],[3.19,0.78],[4.68,0.866],[6.87,1.0],[10,1.23],[14.7,1.55],[21.5,1.87],[26,1.98],[31.6,2.04],[40,2.03],[50,2.0],[68,2.03],[100,2.1],[150,2.16],[215,2.3],[320,2.51],[460,2.68],[680,2.66],[1000,2.68],[1370,2.68]];
const hd43834GreenDashDotDot = [[1,0.787],[3,0.79],[5,0.88],[10,1.25],[20,1.85],[31.6,2.17],[46,2.15],[68,2.17],[100,2.25],[150,2.4],[215,2.52],[300,2.59],[460,2.58],[1370,2.59]];
const hd43834GreenDashDot = [[1,0.76],[3,0.78],[5,0.88],[10,1.24],[20,1.85],[31.6,2.18],[1370,2.18]];
const hd43834GreenLevel = [[1,0.96],[1370,0.96]];
const hd43834GreenLags = [34.9, 490];

// ---------- styling ----------
const BLUE = '#1f5fad', BLUE_PT = '#a9cfe8', BLUE_DOT = '#2b72c8';
const GREEN = '#3aa64e', GREEN_PT = '#c4e6bc', GREEN_DOT = '#3db553';
const AXIS = '#333', TEXT = '#222';
const SERIF = '"Liberation Serif", "DejaVu Serif", serif';
const SANS = 'Lato, "Open Sans", sans-serif';
const DASH = {
  solid: 'solid',
  dashed: [5, 2.5],
  dashDot: [6, 2, 1.5, 2],
  dashDotDot: [6, 2, 1.5, 2, 1.5, 2],
  dotted: [1.2, 2.4]
};
const X_MAX = 5750;
const PANEL_W = 376, PANEL_H = 167;

const panels = [
  { title: 'HD 25457', col: 0, row: 0, yMin: -0.5, yMax: 51.8, yTicks: yTicks25457, dec: 0,
    tags: [['1', BLUE], ['1', GREEN]],
    dots: [[hd25457BlueDots, BLUE_PT], [hd25457GreenDots, GREEN_PT]],
    lines: [[hd25457BlueDashed, BLUE, 'dashed'], [hd25457BlueSolid, BLUE, 'solid'],
            [hd25457GreenDashed, GREEN, 'dashed'], [hd25457GreenDashDotDot, GREEN, 'dashDotDot'], [hd25457GreenSolid, GREEN, 'solid']],
    guides: [[hd25457BlueLevel, hd25457BlueLags, BLUE_DOT], [hd25457GreenLevel, hd25457GreenLags, GREEN_DOT]] },
  { title: '1RXS J223929.1\u2212520525', col: 1, row: 0, yMin: 7, yMax: 134, yTicks: yTicksRxs, dec: 0,
    tags: [['0', BLUE]],
    dots: [[rxsBlueDots, BLUE_PT]],
    lines: [[rxsBlueDashed, BLUE, 'dashed'], [rxsBlueSolid, BLUE, 'solid']],
    guides: [] },
  { title: 'HD 96064 (Binary)', col: 0, row: 1, yMin: 7.1, yMax: 26.8, yTicks: yTicks96064, dec: 0,
    tags: [['3', BLUE]],
    dots: [[hd96064BlueDots, BLUE_PT]],
    lines: [[hd96064BlueDashDot, BLUE, 'dashDot'], [hd96064BlueDashed, BLUE, 'dashed'], [hd96064BlueSolid, BLUE, 'solid']],
    guides: [[hd96064BlueLevel, hd96064BlueLags, BLUE_DOT]] },
  { title: 'HD 51062 (Binary)', col: 1, row: 1, yMin: -265, yMax: 8085, yTicks: yTicks51062, dec: 0,
    tags: [['1', BLUE]],
    dots: [[hd51062BlueDots, BLUE_PT]],
    lines: [[hd51062BlueDashed, BLUE, 'dashDot'], [hd51062BlueSolid, BLUE, 'solid']],
    guides: [[hd51062BlueLevel, hd51062BlueLags, BLUE_DOT]] },
  { title: 'HD 202628', col: 0, row: 2, yMin: -0.1, yMax: 12.3, yTicks: yTicks202628, dec: 0,
    tags: [['1', GREEN]],
    dots: [[hd202628GreenDots, GREEN_PT]],
    lines: [[hd202628GreenDashDotDot, GREEN, 'dashDotDot'], [hd202628GreenDashed, GREEN, 'dashed'], [hd202628GreenSolid, GREEN, 'solid']],
    guides: [[hd202628GreenLevel, hd202628GreenLags, GREEN_DOT]] },
  { title: 'HD 191849', col: 1, row: 2, yMin: 0.77, yMax: 6.07, yTicks: yTicks191849, dec: 0,
    tags: [['2', GREEN]],
    dots: [[hd191849GreenDots, GREEN_PT]],
    lines: [[hd191849GreenDashDot, GREEN, 'dashDot'], [hd191849GreenDashDotDot, GREEN, 'dashDotDot'], [hd191849GreenSolid, GREEN, 'solid']],
    guides: [[hd191849GreenLevel, hd191849GreenLags, GREEN_DOT]] },
  { title: 'HD 199260', col: 0, row: 3, yMin: 2.65, yMax: 14.1, yTicks: yTicks199260, dec: 0,
    tags: [['2', GREEN]],
    dots: [[hd199260GreenDots, GREEN_PT]],
    lines: [[hd199260GreenDashDot, GREEN, 'dashDot'], [hd199260GreenDashed, GREEN, 'dashed'], [hd199260GreenSolid, GREEN, 'solid']],
    guides: [[hd199260GreenLevel, hd199260GreenLags, GREEN_DOT]] },
  { title: 'HD 1581', col: 1, row: 3, yMin: 0.93, yMax: 2.37, yTicks: yTicks1581, dec: 2,
    tags: [['3', GREEN]],
    dots: [[hd1581GreenDots, GREEN_PT]],
    lines: [[hd1581GreenDashDot, GREEN, 'dashDot'], [hd1581GreenDashed, GREEN, 'dashed'], [hd1581GreenSolid, GREEN, 'solid']],
    guides: [[hd1581GreenLevel, hd1581GreenLags, GREEN_DOT]] },
  { title: 'HD 45184', col: 0, row: 4, yMin: -0.05, yMax: 5.18, yTicks: yTicks45184, dec: 0,
    tags: [['3', GREEN]],
    dots: [[hd45184GreenDots, GREEN_PT]],
    lines: [[hd45184GreenDashDot, GREEN, 'dashDot'], [hd45184GreenDashed, GREEN, 'dashed'], [hd45184GreenSolid, GREEN, 'solid']],
    guides: [[hd45184GreenLevel, hd45184GreenLags, GREEN_DOT]] },
  { title: 'HD 154577', col: 1, row: 4, yMin: 0.47, yMax: 1.71, yTicks: yTicks154577, dec: 1, bottom: true,
    tags: [['2', GREEN]],
    dots: [[hd154577GreenDots, GREEN_PT]],
    lines: [[hd154577GreenDashDot, GREEN, 'dashDot'], [hd154577GreenDashDotDot, GREEN, 'dashDotDot'], [hd154577GreenSolid, GREEN, 'solid']],
    guides: [[hd154577GreenLevel, hd154577GreenLags, GREEN_DOT]] },
  { title: 'HD 43834 (Binary)', col: 0, row: 5, yMin: 0.58, yMax: 2.86, yTicks: yTicks43834, dec: 1, bottom: true,
    tags: [['2', GREEN]],
    dots: [[hd43834GreenDots, GREEN_PT]],
    lines: [[hd43834GreenDashDot, GREEN, 'dashDot'], [hd43834GreenDashDotDot, GREEN, 'dashDotDot'], [hd43834GreenSolid, GREEN, 'solid']],
    guides: [[hd43834GreenLevel, hd43834GreenLags, GREEN_DOT]] }
];

const grids = [], xAxes = [], yAxes = [], series = [], graphics = [];
const axisLine = { show: true, onZero: false, lineStyle: { color: AXIS, width: 0.8 } };
const tickLine = { color: AXIS, width: 0.8 };

panels.forEach((p, i) => {
  const left = p.col === 0 ? 33 : 449;
  const top = 2 + p.row * PANEL_H;
  grids.push({ left, top, width: PANEL_W, height: PANEL_H, containLabel: false });

  ['bottom', 'top'].forEach(pos => {
    const labelled = pos === 'bottom' && p.bottom;
    xAxes.push({
      type: 'log', logBase: 10, gridIndex: i, position: pos, min: 1, max: X_MAX,
      axisLine, splitLine: { show: false },
      axisTick: { inside: true, length: 5, customValues: xMajorTicks, lineStyle: tickLine },
      axisLabel: labelled ? {
        customValues: xMajorTicks, margin: 4, color: TEXT,
        formatter: v => '{b|10}{s|' + Math.round(Math.log10(v)) + '}',
        rich: { b: { fontFamily: SERIF, fontSize: 11, color: TEXT },
                s: { fontFamily: SERIF, fontSize: 7.5, color: TEXT, padding: [0, 0, 8, 0] } }
      } : { show: false },
      name: labelled ? 'Lag {t|\u03c4} [d]' : '',
      nameLocation: 'middle', nameGap: 20,
      nameTextStyle: { fontFamily: SANS, fontSize: 11, color: TEXT,
        rich: { t: { fontFamily: SERIF, fontStyle: 'italic', fontSize: 12, color: TEXT } } }
    });
    xAxes.push({
      type: 'log', logBase: 10, gridIndex: i, position: pos, min: 1, max: X_MAX,
      axisLine: { show: false }, splitLine: { show: false }, axisLabel: { show: false },
      axisTick: { inside: true, length: 2.5, customValues: xMinorTicks, lineStyle: tickLine }
    });
  });

  ['left', 'right'].forEach(pos => {
    yAxes.push({
      type: 'value', gridIndex: i, position: pos, min: p.yMin, max: p.yMax,
      axisLine, splitLine: { show: false },
      axisTick: { inside: true, length: 5, customValues: p.yTicks, lineStyle: tickLine },
      axisLabel: pos === 'left' ? {
        customValues: p.yTicks, margin: 4, color: TEXT, fontFamily: SERIF, fontSize: 11,
        formatter: v => v.toFixed(p.dec)
      } : { show: false },
      name: pos === 'left' && p.col === 0 ? '{g|\u03c3}{p|p} [m/s]' : '',
      nameLocation: 'middle', nameGap: 19, nameRotate: 90,
      nameTextStyle: { fontFamily: SANS, fontSize: 11, color: TEXT,
        rich: { g: { fontFamily: SERIF, fontStyle: 'italic', fontSize: 12, color: TEXT },
                p: { fontFamily: SERIF, fontSize: 8, color: TEXT, padding: [6, 0, 0, 0] } } }
    });
  });

  const xi = 4 * i, yi = 2 * i;
  p.dots.forEach(([data, color]) => {
    series.push({ type: 'scatter', xAxisIndex: xi, yAxisIndex: yi, data, symbolSize: 4,
      itemStyle: { color, opacity: 0.85 }, silent: true, z: 1 });
  });
  p.guides.forEach(([level, lags, color]) => {
    series.push({ type: 'line', xAxisIndex: xi, yAxisIndex: yi, data: level, symbol: 'none',
      lineStyle: { color, width: 1.2, type: DASH.dotted }, silent: true, z: 2,
      markLine: { symbol: 'none', silent: true, label: { show: false },
        lineStyle: { color, width: 1.2, type: DASH.dotted },
        data: lags.map(v => ({ xAxis: v })) } });
  });
  p.lines.forEach(([data, color, dash]) => {
    series.push({ type: 'line', xAxisIndex: xi, yAxisIndex: yi, data, symbol: 'none',
      smooth: 0.3, lineStyle: { color, width: 1.3, type: DASH[dash] }, silent: true, z: 3 });
  });

  graphics.push({ type: 'text', x: left + PANEL_W / 2, y: top + PANEL_H - 13, z: 10,
    style: { text: p.title, fill: TEXT, font: '11px ' + SANS, align: 'center', verticalAlign: 'middle' } });
  p.tags.forEach(([txt, color], k) => {
    graphics.push({ type: 'text', x: left + PANEL_W - 7,
      y: top + PANEL_H - 13 - 11 * (p.tags.length - 1 - k), z: 10,
      style: { text: txt, fill: color, font: '12px ' + SANS, align: 'center', verticalAlign: 'middle' } });
  });
});

const chart = echarts.init(document.getElementById('chart'), null, { renderer: 'canvas' });
chart.setOption({
  animation: false,
  backgroundColor: '#fff',
  grid: grids,
  xAxis: xAxes,
  yAxis: yAxes,
  series,
  graphic: graphics
});
</script>
</body>
</html>
